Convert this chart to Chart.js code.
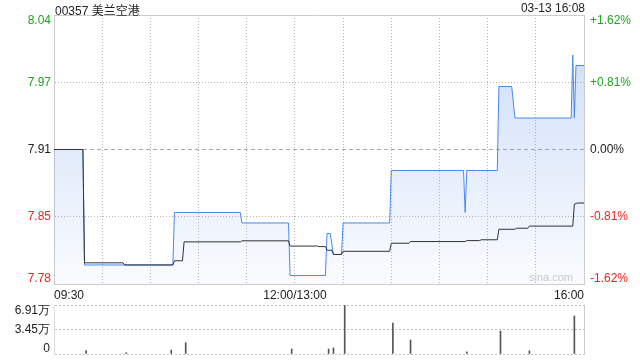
<!DOCTYPE html>
<html>
<head>
<meta charset="utf-8">
<script src="https://cdn.jsdelivr.net/npm/chart.js@4.4.1/dist/chart.umd.min.js"></script>
<style>
  body { margin: 0; background: #fff; font-family: "Liberation Sans", Arial, "Noto Sans CJK SC", sans-serif; }
  #wrap { position: relative; width: 640px; height: 360px; overflow: hidden; }
  #main { position: absolute; left: 0; top: 0; width: 640px; height: 300px; }
  #vol { position: absolute; left: 0; top: 300px; width: 640px; height: 60px; }
  .txt { position: absolute; font-size: 12px; color: #222; white-space: nowrap; }
  #title { left: 55px; top: 1px; }
  #stamp { right: 55px; top: 1px; }
  #mark { right: 67px; top: 271px; font-size: 11px; color: #c8c8c8; }
</style>
</head>
<body>
<div id="wrap">
  <div id="main"><canvas id="priceChart"></canvas></div>
  <div id="vol"><canvas id="volChart"></canvas></div>
  <div class="txt" id="title">00357 美兰空港</div>
  <div class="txt" id="stamp">03-13 16:08</div>
  <div class="txt" id="mark">sina.com</div>
</div>
<script>
const prevClose = 7.91;

// price axis ticks (percent from previous close) and their labels
const pctTicks = [-1.62, -0.81, 0, 0.81, 1.62];
const priceTickLabels = ['7.78', '7.85', '7.91', '7.97', '8.04'];
const pctTickLabels = ['-1.62%', '-0.81%', '0.00%', '+0.81%', '+1.62%'];

// time axis labels
const timeTickAt = ['09:30', '12:00', '16:00'];
const timeTickText = ['09:30', '12:00/13:00', '16:00'];

// last price (step points)
const priceTimes = ['09:30', '09:48', '09:49', '10:44', '10:45', '11:26', '11:27', '11:56', '11:57',
  '13:19', '13:20', '13:22', '13:24', '13:29', '13:30', '13:59', '14:00', '14:45', '14:46', '14:47',
  '15:06', '15:07', '15:15', '15:17', '15:52', '15:53', '15:54', '15:55', '16:00'];
const priceValues = [7.91, 7.91, 7.80, 7.80, 7.85, 7.85, 7.84, 7.84, 7.79,
  7.79, 7.83, 7.83, 7.81, 7.81, 7.84, 7.84, 7.89, 7.89, 7.85, 7.89,
  7.89, 7.97, 7.97, 7.94, 7.94, 8.00, 7.94, 7.99, 7.99];

// average price
const avgTimes = ['09:30', '09:48', '09:49', '10:13', '10:14', '10:44', '10:45', '10:50', '10:51',
  '11:26', '11:27', '11:56', '11:57', '13:14', '13:15', '13:19', '13:20', '13:23', '13:24',
  '13:29', '13:30', '13:59', '14:00', '14:11', '14:12', '14:46', '14:47', '14:55', '14:56',
  '15:06', '15:07', '15:17', '15:18', '15:25', '15:26', '15:53', '15:54', '15:56', '16:00'];
const avgValues = [7.91, 7.91, 7.802, 7.802, 7.800, 7.800, 7.804, 7.804, 7.822,
  7.822, 7.823, 7.823, 7.818, 7.818, 7.8175, 7.8175, 7.814, 7.814, 7.810,
  7.810, 7.813, 7.813, 7.8207, 7.8207, 7.8223, 7.8223, 7.8232, 7.8232, 7.824,
  7.824, 7.834, 7.834, 7.835, 7.835, 7.837, 7.837, 7.858, 7.859, 7.859];

// volume, in 万 shares
const volTimes = ['09:50', '10:15', '10:43', '10:52', '11:58', '13:21', '13:24', '13:31',
  '14:01', '14:12', '14:47', '15:08', '15:26', '15:54'];
const volValues = [0.47, 0.18, 0.56, 1.6, 0.7, 0.7, 0.85, 6.91, 4.37, 1.97, 0.3, 3.24, 0.45, 5.36];
const volTickLabels = ['0', '3.45万', '6.91万'];

const green = '#1fa51f';
const red = '#ee2222';
const dark = '#222';
const font = { family: '"Liberation Sans", Arial, sans-serif', size: 12, lineHeight: 0.9 };

// trading minutes from 09:30, lunch break removed
function toMin(t) {
  const [h, m] = t.split(':').map(Number);
  const v = h * 60 + m;
  return v <= 720 ? v - 570 : v - 780 + 150;
}

const totalMin = toMin('16:00');
const pFrom = (times, vals) => times.map((t, i) => ({ x: toMin(t), y: vals[i] }));

function tickColor(ctx) {
  const p = pctTicks[ctx.index];
  if (p > 0) return green;
  if (p < 0) return red;
  return dark;
}

// push first/last label inward, as the original does
function edgeLabel(text, index, count) {
  if (index === count - 1) return ['', text];
  if (index === 0) return [text, ''];
  return text;
}

function setPctTicks(scale) {
  scale.ticks = pctTicks.map(p => ({ value: prevClose * (1 + p / 100) }));
}

function fixY(width) {
  return s => {
    s.width = width;
    s.paddingTop = 0;
    s.paddingBottom = 0;
  };
}

const isEdgeX = ctx => ctx.index === 0 || (ctx.tick && ctx.tick.value === totalMin);

const gridDash = ctx => {
  if (ctx.index === 2) return [4, 3];
  if (ctx.index === 0 || ctx.index === pctTicks.length - 1) return [];
  return [1, 2];
};
const gridColor = ctx => {
  if (ctx.index === 2) return '#a8a8a8';
  if (ctx.index === 0 || ctx.index === pctTicks.length - 1) return '#cccccc';
  return '#b8b8b8';
};

const yMin = prevClose * (1 + pctTicks[0] / 100);
const yMax = prevClose * (1 + pctTicks[pctTicks.length - 1] / 100);

new Chart(document.getElementById('priceChart'), {
  type: 'line',
  data: {
    datasets: [{
      label: '均价',
      data: pFrom(avgTimes, avgValues),
      borderColor: '#333333',
      borderWidth: 1,
      pointRadius: 0,
      tension: 0,
      fill: false
    }, {
      label: '价格',
      data: pFrom(priceTimes, priceValues),
      borderColor: '#4a88ec',
      borderWidth: 1,
      pointRadius: 0,
      tension: 0,
      fill: 'start',
      backgroundColor: ctx => {
        const { ctx: c, chartArea } = ctx.chart;
        if (!chartArea) return 'rgba(90,140,230,0.2)';
        const g = c.createLinearGradient(0, chartArea.top, 0, chartArea.bottom);
        g.addColorStop(0, 'rgba(80,135,230,0.30)');
        g.addColorStop(1, 'rgba(80,135,230,0.03)');
        return g;
      }
    }]
  },
  options: {
    responsive: true,
    maintainAspectRatio: false,
    animation: false,
    layout: { padding: { top: 15, left: 0, right: 0, bottom: 0 } },
    plugins: { legend: { display: false }, tooltip: { enabled: false } },
    scales: {
      x: {
        type: 'linear',
        min: 0,
        max: totalMin,
        afterFit: s => { s.height = 16; },
        grid: {
          color: ctx => isEdgeX(ctx) ? '#cccccc' : '#b8b8b8',
          drawTicks: false
        },
        border: { color: '#cccccc', dash: ctx => isEdgeX(ctx) ? [] : [1, 2] },
        ticks: {
          stepSize: 30,
          autoSkip: false,
          maxRotation: 0,
          align: 'inner',
          padding: 4,
          color: dark,
          font: { family: font.family, size: 12 },
          callback: v => {
            const i = timeTickAt.findIndex(t => toMin(t) === v);
            return i >= 0 ? timeTickText[i] : '';
          }
        }
      },
      y: {
        position: 'left',
        min: yMin,
        max: yMax,
        afterBuildTicks: setPctTicks,
        afterFit: fixY(54),
        grid: { color: gridColor, drawTicks: false },
        border: { color: '#cccccc', dash: gridDash },
        ticks: {
          autoSkip: false,
          padding: 3,
          font,
          color: tickColor,
          callback: (v, i) => edgeLabel(priceTickLabels[i], i, priceTickLabels.length)
        }
      },
      y1: {
        position: 'right',
        min: yMin,
        max: yMax,
        afterBuildTicks: setPctTicks,
        afterFit: fixY(56),
        grid: { display: false, drawTicks: false },
        border: { color: '#cccccc' },
        ticks: {
          autoSkip: false,
          padding: 6,
          font,
          color: tickColor,
          callback: (v, i) => edgeLabel(pctTickLabels[i], i, pctTickLabels.length)
        }
      }
    }
  }
});

const volMax = volValues.reduce((a, b) => Math.max(a, b), 0);

new Chart(document.getElementById('volChart'), {
  type: 'bar',
  data: {
    datasets: [{
      data: pFrom(volTimes, volValues),
      backgroundColor: '#555555',
      barThickness: 1
    }]
  },
  options: {
    responsive: true,
    maintainAspectRatio: false,
    animation: false,
    layout: { padding: { top: 5, left: 0, right: 0, bottom: 6 } },
    plugins: { legend: { display: false }, tooltip: { enabled: false } },
    scales: {
      x: {
        type: 'linear',
        min: 0,
        max: totalMin,
        offset: false,
        display: false
      },
      y: {
        position: 'left',
        min: 0,
        max: volMax,
        afterBuildTicks: s => { s.ticks = [0, volMax / 2, volMax].map(v => ({ value: v })); },
        afterFit: fixY(54),
        grid: { color: '#c4c4c4', drawTicks: false },
        border: { color: '#dddddd', dash: [2, 2] },
        ticks: {
          autoSkip: false,
          padding: 4,
          font,
          color: dark,
          callback: (v, i) => edgeLabel(volTickLabels[i], i, volTickLabels.length)
        }
      },
      yr: {
        position: 'right',
        min: 0,
        max: volMax,
        afterFit: fixY(56),
        grid: { display: false },
        ticks: { display: false },
        border: { color: '#cccccc' }
      }
    }
  }
});
</script>
</body>
</html>
